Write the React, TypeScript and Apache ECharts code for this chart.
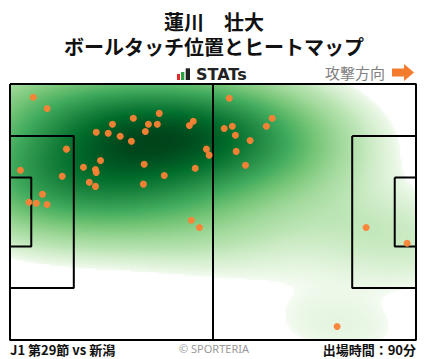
import React, { useEffect, useRef } from "react";
import * as echarts from "echarts";

// Pitch dimensions (metres)
const PITCH_LENGTH = 105;
const PITCH_WIDTH = 68;
const PENALTY_DEPTH = 16.5;
const PENALTY_WIDTH = 40.32;
const GOAL_AREA_DEPTH = 5.5;
const GOAL_AREA_WIDTH = 18.32;

// Ball touch positions [x metres from own goal line, y metres from top touchline]
const touchPoints: [number, number][] = [
  [6.0, 3.5], [9.6, 6.5], [22.3, 12.8], [26.5, 10.7], [25.4, 13.1], [28.5, 13.9],
  [31.9, 9.1], [35.8, 10.7], [38.1, 10.7], [38.6, 7.8], [35.0, 12.6], [31.4, 15.2],
  [46.4, 11.0], [47.4, 9.9], [50.8, 17.3], [51.5, 18.9], [47.9, 22.4], [14.6, 17.3],
  [23.4, 20.3], [19.0, 22.1], [22.1, 22.7], [22.3, 23.5], [34.7, 21.3], [39.9, 24.3],
  [20.5, 26.1], [22.1, 27.2], [34.5, 26.6], [2.7, 22.9], [13.5, 24.5], [8.4, 29.3],
  [4.9, 31.4], [6.8, 31.7], [9.6, 32.0], [46.9, 36.2], [49.0, 38.1], [56.7, 3.8],
  [67.8, 9.1], [66.3, 11.2], [55.4, 11.8], [57.5, 11.2], [58.3, 13.6], [62.1, 15.0],
  [58.5, 17.9], [60.9, 21.6], [92.1, 38.1], [102.7, 42.3], [84.6, 64.4],
];

const titleLines = ["蓮川　壮大", "ボールタッチ位置とヒートマップ"];
const matchLabel = "J1 第29節 vs 新潟";
const minutesLabel = "出場時間：90分";
const copyrightLabel = "© SPORTERIA";
const directionLabel = "攻撃方向";

const GREENS = ["#f7fcf5", "#e5f5e0", "#c7e9c0", "#a1d99b", "#74c476", "#41ab5d", "#238b45", "#006d2c", "#00441b"];

const NX = 203;
const NY = 128;
const LEVEL_FRACTION = 0.04; // lowest drawn level, fraction of peak density
const BW_ADJUST = 1.45;
const GAMMA = 0.55;

function makeKernel() {
  const n = touchPoints.length;
  let mx = 0, my = 0;
  touchPoints.forEach(([x, y]) => { mx += x; my += y; });
  mx /= n; my /= n;
  let sxx = 0, syy = 0, sxy = 0;
  touchPoints.forEach(([x, y]) => {
    sxx += (x - mx) * (x - mx);
    syy += (y - my) * (y - my);
    sxy += (x - mx) * (y - my);
  });
  sxx /= n - 1; syy /= n - 1; sxy /= n - 1;
  const f2 = Math.pow(n, -2 / 6) * BW_ADJUST * BW_ADJUST;
  const a = sxx * f2, b = sxy * f2, d = syy * f2;
  const det = a * d - b * b;
  const ia = d / det, ib = -b / det, id = a / det;
  return (cx: number, cy: number) => {
    let s = 0;
    for (let k = 0; k < n; k++) {
      const dx = cx - touchPoints[k][0];
      const dy = cy - touchPoints[k][1];
      s += Math.exp(-0.5 * (ia * dx * dx + 2 * ib * dx * dy + id * dy * dy));
    }
    return s;
  };
}

function buildDensity() {
  const dens = makeKernel();
  // mass distribution over an extended grid (iso-proportion colouring)
  const ext: number[] = [];
  for (let y = -25; y <= PITCH_WIDTH + 25; y += 1) {
    for (let x = -35; x <= PITCH_LENGTH + 35; x += 1) ext.push(dens(x, y));
  }
  ext.sort((p, q) => p - q);
  const prefix: number[] = new Array(ext.length + 1);
  prefix[0] = 0;
  for (let k = 0; k < ext.length; k++) prefix[k + 1] = prefix[k] + ext[k];
  const total = prefix[ext.length];
  const quantile = (v: number) => {
    let lo = 0, hi = ext.length;
    while (lo < hi) {
      const mid = (lo + hi) >> 1;
      if (ext[mid] < v) lo = mid + 1; else hi = mid;
    }
    return prefix[lo] / total;
  };
  const vals: number[] = new Array(NX * NY);
  let max = 0;
  for (let j = 0; j < NY; j++) {
    const cy = ((j + 0.5) * PITCH_WIDTH) / NY;
    for (let i = 0; i < NX; i++) {
      const cx = ((i + 0.5) * PITCH_LENGTH) / NX;
      const s = dens(cx, cy);
      vals[j * NX + i] = s;
      if (s > max) max = s;
    }
  }
  const level = max * LEVEL_FRACTION;
  const q0 = quantile(level);
  const qMax = quantile(max);
  const data: [number, number, number][] = [];
  for (let j = 0; j < NY; j++) {
    for (let i = 0; i < NX; i++) {
      const v = vals[j * NX + i];
      if (v >= level) {
        const t = Math.max(0, (quantile(v) - q0) / (qMax - q0));
        data.push([i, j, Math.pow(t, GAMMA)]);
      }
    }
  }
  return data;
}

function rectLine(x0: number, y0: number, x1: number, y1: number): [number, number][] {
  return [[x0, y0], [x1, y0], [x1, y1], [x0, y1], [x0, y0]];
}

export default function App() {
  const ref = useRef<HTMLDivElement>(null);
  useEffect(() => {
    document.body.style.margin = "0";
    if (!ref.current) return;
    const chart = echarts.init(ref.current, null, { renderer: "svg" });
    const heat = buildDensity();
    const penTop = (PITCH_WIDTH - PENALTY_WIDTH) / 2;
    const gaTop = (PITCH_WIDTH - GOAL_AREA_WIDTH) / 2;
    const pitchLines: [number, number][][] = [
      rectLine(0, 0, PITCH_LENGTH, PITCH_WIDTH),
      [[PITCH_LENGTH / 2, 0], [PITCH_LENGTH / 2, PITCH_WIDTH]],
      rectLine(0, penTop, PENALTY_DEPTH, PITCH_WIDTH - penTop),
      rectLine(0, gaTop, GOAL_AREA_DEPTH, PITCH_WIDTH - gaTop),
      rectLine(PITCH_LENGTH - PENALTY_DEPTH, penTop, PITCH_LENGTH, PITCH_WIDTH - penTop),
      rectLine(PITCH_LENGTH - GOAL_AREA_DEPTH, gaTop, PITCH_LENGTH, PITCH_WIDTH - gaTop),
    ];
    const gridPos = { left: 10, top: 84, width: 406, height: 256 };
    const jp = "'Noto Sans CJK JP', 'Noto Sans', sans-serif";
    chart.setOption({
      animation: false,
      grid: [{ ...gridPos }, { ...gridPos }],
      xAxis: [
        { type: "category", gridIndex: 0, data: Array.from({ length: NX }, (_, i) => i), show: false },
        { type: "value", gridIndex: 1, min: 0, max: PITCH_LENGTH, show: false },
      ],
      yAxis: [
        { type: "category", gridIndex: 0, data: Array.from({ length: NY }, (_, i) => i), inverse: true, show: false },
        { type: "value", gridIndex: 1, min: 0, max: PITCH_WIDTH, inverse: true, show: false },
      ],
      visualMap: {
        show: false,
        type: "continuous",
        min: 0,
        max: 1,
        dimension: 2,
        seriesIndex: 0,
        inRange: { color: GREENS },
      },
      series: [
        {
          type: "heatmap",
          xAxisIndex: 0,
          yAxisIndex: 0,
          data: heat,
          progressive: 0,
          silent: true,
          emphasis: { disabled: true },
        },
        ...pitchLines.map((pts) => ({
          type: "line",
          xAxisIndex: 1,
          yAxisIndex: 1,
          data: pts,
          symbol: "none",
          clip: false,
          silent: true,
          z: 3,
          lineStyle: { color: "#000", width: 2 },
        })),
        {
          type: "scatter",
          xAxisIndex: 1,
          yAxisIndex: 1,
          data: touchPoints,
          symbolSize: 7,
          z: 4,
          silent: true,
          itemStyle: { color: "#fd8235", opacity: 0.95 },
        },
      ],
      graphic: [
        { type: "text", x: 214, y: 21.5, style: { text: titleLines[0], font: `bold 20px ${jp}`, lineHeight: 20, fill: "#111", align: "center", verticalAlign: "middle" } },
        { type: "text", x: 214, y: 46.5, style: { text: titleLines[1], font: `bold 20px ${jp}`, lineHeight: 20, fill: "#111", align: "center", verticalAlign: "middle" } },
        { type: "rect", shape: { x: 177, y: 74, width: 3, height: 6 }, style: { fill: "#e8262c" } },
        { type: "rect", shape: { x: 181, y: 72, width: 3.3, height: 8 }, style: { fill: "#2ca340" } },
        { type: "rect", shape: { x: 185.7, y: 68.3, width: 4.3, height: 11.7 }, style: { fill: "#222" } },
        { type: "text", x: 196, y: 74.5, style: { text: "STATs", font: "bold 16px 'DejaVu Sans', sans-serif", fill: "#222", verticalAlign: "middle" } },
        { type: "text", x: 385, y: 72.5, style: { text: directionLabel, font: `15px ${jp}`, fill: "#808080", align: "right", verticalAlign: "middle" } },
        { type: "polygon", shape: { points: [[392, 68.5], [404, 68.5], [404, 64], [414, 72.5], [404, 81], [404, 76.5], [392, 76.5]] }, style: { fill: "#f47c2c" } },
        { type: "text", x: 10, y: 349.5, style: { text: matchLabel, font: `bold 13px ${jp}`, fill: "#111", verticalAlign: "middle" } },
        { type: "text", x: 214, y: 348.5, style: { text: copyrightLabel, font: `11px 'Noto Sans', sans-serif`, fill: "#999", align: "center", verticalAlign: "middle" } },
        { type: "text", x: 416, y: 349.5, style: { text: minutesLabel, font: `bold 13px ${jp}`, fill: "#111", align: "right", verticalAlign: "middle" } },
      ],
    });
    return () => chart.dispose();
  }, []);
  return <div ref={ref} style={{ width: 428, height: 359 }} />;
}
